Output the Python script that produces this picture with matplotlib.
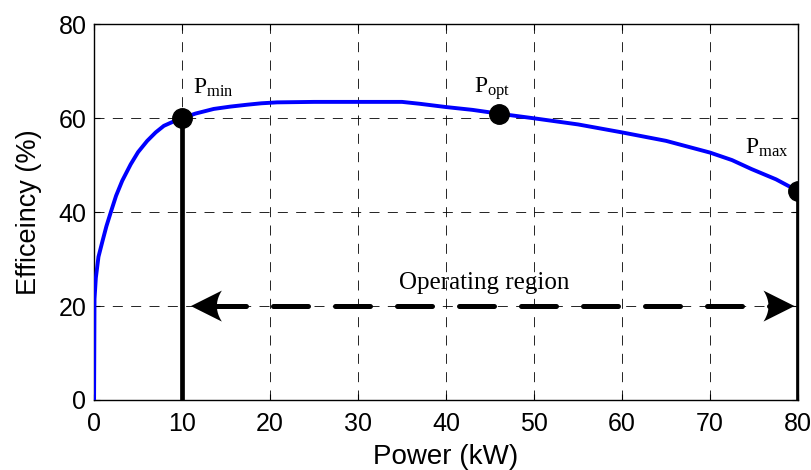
import matplotlib
matplotlib.use("Agg")
import matplotlib.pyplot as plt
from matplotlib.patches import Polygon
from matplotlib.transforms import ScaledTranslation
import numpy as np

# Data
power_kw = [0, 0.0, 0.05, 0.2, 0.5, 0.95, 1.4, 1.9, 2.5, 3.2, 4.16, 5.0, 6.04, 7.0, 7.93, 9.0, 10.0,
            11.5, 13.6, 15.5, 17.4, 19.0, 20.8, 25.0, 30.0, 35.0, 37.0, 40.0, 43.0, 46.0,
            50.0, 55.0, 60.0, 65.0, 70.0, 72.5, 74.7, 77.5, 80.0]
efficiency = [0, 0.0, 21.5, 26.0, 30.5, 33.8, 37.0, 40.0, 43.5, 46.7, 50.2, 52.8, 55.2, 57.0, 58.4, 59.3, 60.0,
              61.0, 62.0, 62.5, 62.9, 63.2, 63.4, 63.5, 63.5, 63.5, 63.1, 62.4, 61.8, 61.0,
              60.0, 58.7, 57.0, 55.2, 52.7, 51.1, 49.2, 47.0, 44.5]
point_labels = ["min", "opt", "max"]
point_x = [10, 46, 80]
point_y = [60, 61, 44.5]
label_x = [13.5, 45.2, 76.5]
label_y = [65.3, 65.4, 52.5]
region_y = 20
region_tips = [11.0, 79.6]
region_label = "Operating region"

plt.rcParams['mathtext.fontset'] = 'custom'
plt.rcParams['mathtext.rm'] = 'Liberation Serif'
plt.rcParams['mathtext.it'] = 'Liberation Serif:italic'

fig = plt.figure(figsize=(8.11, 4.70), dpi=100)
ax = fig.add_axes([0.116, 0.149, 0.868, 0.799])

ax.plot(power_kw, efficiency, color='#0000ff', lw=2.8, zorder=3)

# vertical bars
for px, py in zip([point_x[0], point_x[2]], [point_y[0], point_y[2]]):
    ax.plot([px, px], [0, py], color='black', lw=3.4, zorder=4, solid_capstyle='butt')

ax.plot(point_x, point_y, 'o', color='black', ms=14, zorder=5)

for lab, lx, ly in zip(point_labels, label_x, label_y):
    ax.text(lx, ly, r'$\mathrm{P}_{\mathrm{' + lab + r'}}$', fontsize=17,
            ha='center', va='baseline')

# operating region: dashed shaft + solid notched heads
ax.plot([13.3, 77.0], [region_y, region_y], color='black', lw=3.6,
        linestyle=(0, (7.0, 5.4)), dash_capstyle='round', zorder=5)

L, W = 0.31, 0.155
t = np.linspace(-1, 1, 15)
back = [(L - 0.05 * (1 - tt ** 2), W * tt) for tt in t]
head_pts = [(0.0, 0.0)] + back
for tip, sgn in zip(region_tips, [1, -1]):
    verts = [(sgn * vx, vy) for vx, vy in head_pts]
    tr = fig.dpi_scale_trans + ScaledTranslation(tip, region_y, ax.transData)
    ax.add_patch(Polygon(verts, closed=True, facecolor='black', edgecolor='none',
                         transform=tr, zorder=6, clip_on=False))

ax.text(44.3, 23.6, region_label, fontsize=18, family='Liberation Serif',
        ha='center', va='baseline')

ax.set_xlim(0, 80)
ax.set_ylim(0, 80)
ax.set_xticks(np.arange(0, 81, 10))
ax.set_yticks(np.arange(0, 81, 20))
ax.grid(True, color='black', linestyle=(0, (12, 10)), lw=0.6)
ax.tick_params(direction='in', length=4, labelsize=18, width=0.8, top=True, right=True)
ax.tick_params(axis='x', pad=8.5)
ax.tick_params(axis='y', pad=5.5)
for lab in ax.get_xticklabels() + ax.get_yticklabels():
    lab.set_family('Liberation Sans')
for s in ax.spines.values():
    s.set_linewidth(1.0)

ax.set_xlabel('Power (kW)', fontsize=20, family='Liberation Sans', labelpad=6)
ax.set_ylabel('Efficeincy (%)', fontsize=19.5, family='Liberation Sans', labelpad=12)

fig.savefig('out.png', dpi=100)
